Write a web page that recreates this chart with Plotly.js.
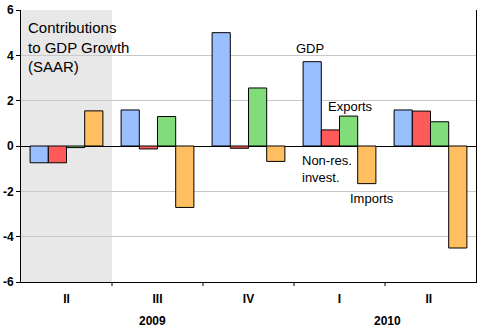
<!DOCTYPE html>
<html><head><meta charset="utf-8">
<script src="https://cdn.plot.ly/plotly-3.0.1.min.js"></script>
<style>body{margin:0;padding:0;background:#fff}#c{width:480px;height:329px}</style>
</head><body><div id="c"></div>
<script>
const quarters = ["II", "III", "IV", "I", "II "];
const years = ["2009", "2010"];
const yearPos = [0.95, 3.53];
const gdp = [-0.74, 1.59, 5.0, 3.72, 1.59];
const nonres = [-0.74, -0.13, -0.1, 0.71, 1.54];
const exportsV = [-0.07, 1.30, 2.56, 1.32, 1.07];
const importsV = [1.55, -2.71, -0.68, -1.66, -4.5];
const yTicks = [-6, -4, -2, 0, 2, 4, 6];
const yTickText = ["-6", "-4", "-2", "0", "2", "4", "6"];

const xcat = quarters.map((q, i) => i);
function bar(y, color){
  return {type:'bar', x:xcat, y:y, marker:{color:color, line:{color:'#000', width:1}}, hoverinfo:'skip'};
}
const data = [bar(gdp,'#99BFFF'), bar(nonres,'#FF5A5A'), bar(exportsV,'#80DD7A'), bar(importsV,'#FFBF60')];

const annFont = {family:'Arial, Liberation Sans, sans-serif', size:13, color:'#000'};
const annotations = [
  {xref:'paper', yref:'paper', x:0.012, y:0.975, xanchor:'left', yanchor:'top', align:'left', showarrow:false,
   text:'Contributions<br>to GDP Growth<br>(SAAR)', font:{family:'Arial, Liberation Sans, sans-serif', size:15, color:'#000'}},
  {xref:'x', yref:'y', x:2.68, y:4.31, xanchor:'center', yanchor:'middle', showarrow:false, text:'GDP', font:annFont},
  {xref:'x', yref:'y', x:3.12, y:1.73, xanchor:'center', yanchor:'middle', showarrow:false, text:'Exports', font:annFont},
  {xref:'x', yref:'y', x:2.57, y:-0.2, xanchor:'left', yanchor:'top', align:'left', showarrow:false, text:'Non-res.<br>invest.', font:annFont},
  {xref:'x', yref:'y', x:3.36, y:-2.31, xanchor:'center', yanchor:'middle', showarrow:false, text:'Imports', font:annFont}
];
years.forEach((yr, i) => annotations.push({xref:'x', yref:'paper', x:yearPos[i], y:-0.11, yanchor:'top', showarrow:false, text:'<b>'+yr+'</b>',
  font:{family:'Arial, Liberation Sans, sans-serif', size:12, color:'#000'}}));

const layout = {
  width:480, height:329,
  margin:{l:21, r:4, t:10, b:47},
  paper_bgcolor:'#fff', plot_bgcolor:'#fff',
  showlegend:false,
  barmode:'group', bargap:0.2, bargroupgap:0,
  xaxis:{type:'linear', range:[-0.5, 4.5], tickvals:xcat, ticktext:quarters.map(q=>'<b>'+q+'</b>'), ticks:'', showgrid:false,
    zeroline:false, showline:true, linecolor:'#000', linewidth:1, ticklabelstandoff:6,
    tickfont:{family:'Arial, Liberation Sans, sans-serif', size:12, color:'#000'}, fixedrange:true},
  yaxis:{range:[-6, 6], tickvals:yTicks, ticktext:yTickText.map(t=>'<b>'+t+'</b>'), ticks:'outside', ticklen:4, tickcolor:'#000',
    showgrid:true, gridcolor:'#c8c8c8', gridwidth:1, zeroline:true, zerolinecolor:'#000', zerolinewidth:1,
    showline:true, mirror:true, linecolor:'#000', linewidth:1,
    tickfont:{family:'Arial, Liberation Sans, sans-serif', size:12, color:'#000'}, fixedrange:true},
  shapes:[
    {type:'rect', xref:'x', yref:'paper', x0:-0.5, x1:0.5, y0:0, y1:1, fillcolor:'#e8e8e8', line:{width:0}, layer:'below'}
  ].concat([0.5,1.5,2.5,3.5].map(b => ({type:'line', xref:'x', yref:'paper', x0:b, x1:b, y0:0, y1:-0.015, line:{color:'#000', width:1}}))),
  annotations:annotations
};
Plotly.newPlot('c', data, layout, {staticPlot:true, displayModeBar:false});
</script></body></html>
